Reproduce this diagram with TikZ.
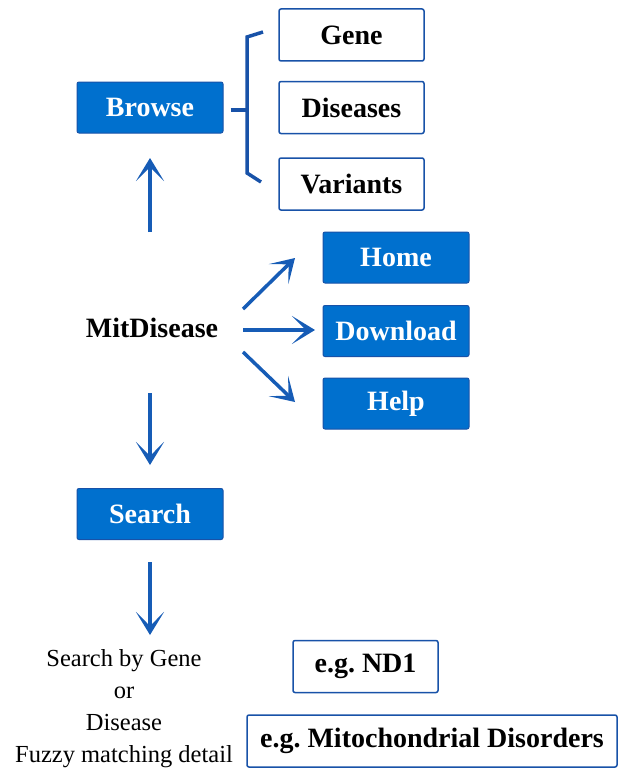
\documentclass[tikz,border=0pt]{standalone}
\usepackage{fontspec}
\setmainfont{Liberation Serif}
\usetikzlibrary{arrows.meta,positioning}
\definecolor{boxblue}{RGB}{0,112,206}
\definecolor{lineblue}{RGB}{24,82,168}
\definecolor{arrowblue}{RGB}{22,92,182}
\tikzset{
    bluebox/.style={draw=lineblue, fill=boxblue, line width=1pt, rounded corners=2pt,
        minimum width=146pt, minimum height=51pt, inner sep=0pt, text=white,
        font=\fontsize{28}{32}\selectfont\bfseries},
    whitebox/.style={draw=lineblue, fill=white, line width=1.5pt, rounded corners=2pt,
        minimum width=145pt, minimum height=52pt, inner sep=0pt,
        font=\fontsize{28}{32}\selectfont\bfseries},
    arr/.style={draw=arrowblue, line width=3.5pt,
        -{Stealth[length=23pt,width=28pt,inset=14pt]}},
    bracket/.style={draw=lineblue, line width=3.5pt}
}

\begin{document}
\begin{tikzpicture}[x=1pt,y=1pt]
    \useasboundingbox (0,0) rectangle (619,-768);

    % Main entry
    \node[font=\fontsize{28}{32}\selectfont\bfseries] (mit) at (152,-328) {MitDisease};
    \node[bluebox] (browse) at (150,-107.5) {Browse};
    \node[bluebox] (search) at (150,-514) {Search};

    % Browse options
    \foreach \y/\name/\label in {-35/gene/Gene, -107.5/diseases/Diseases, -184/variants/Variants} {
        \node[whitebox] (\name) at (351.5,\y) {\label};
    }

    % Menu pages
    \foreach \y/\name/\label in {-257.5/home/Home, -331/download/Download, -403.5/help/Help} {
        \node[bluebox] (\name) at (396,\y) {\label};
    }

    % Bracket
    \coordinate (brT) at (263,-32);
    \coordinate (brTa) at (247,-37);
    \coordinate (brM) at (247,-110);
    \coordinate (brBa) at (247,-173);
    \coordinate (brB) at (261,-182);
    \draw[bracket] (brT) -- (brTa) -- (brBa) -- (brB);
    \draw[bracket, shorten <=7pt] (browse.east |- brM) -- (brM);

    % Arrows
    \coordinate (upS) at (150,-232);
    \coordinate (upE) at (150,-158);
    \coordinate (neS) at (243,-309);
    \coordinate (neE) at (295,-258);
    \coordinate (eS) at (243,-330);
    \coordinate (eE) at (315,-330);
    \coordinate (seS) at (243,-352);
    \coordinate (seE) at (295,-402);
    \coordinate (dnS) at (150,-393);
    \coordinate (dnE) at (150,-465);
    \coordinate (dn2S) at (150,-562);
    \coordinate (dn2E) at (150,-635);
    \foreach \s/\e in {upS/upE, neS/neE, eS/eE, seS/seE, dnS/dnE, dn2S/dn2E} {
        \draw[arr] (\s) -- (\e);
    }

    % Search details
    \node[align=center, font=\fontsize{24.5}{32}\selectfont] (detail) at (124,-708.5)
        {Search by Gene\\or\\Disease\\Fuzzy matching detail};
    \node[whitebox] (nd1) at (365.5,-666.5) {e.g.\ ND1};
    \node[whitebox, minimum width=370pt] (mito) at (432,-741) {e.g.\ Mitochondrial Disorders};
\end{tikzpicture}
\end{document}
